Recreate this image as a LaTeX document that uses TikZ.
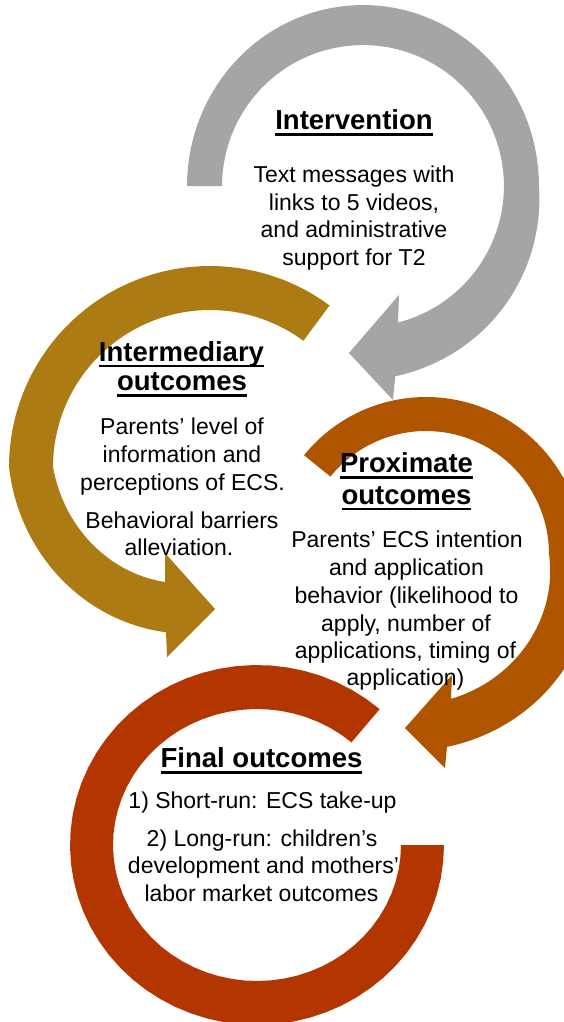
\documentclass[tikz,border=0pt]{standalone}
\usepackage{fontspec}
\setmainfont{Liberation Sans}
\newcommand\ulbox[1]{\setbox0\hbox{#1}\leavevmode\rlap{\rule[-6.2pt]{\wd0}{2.4pt}}\box0}
\definecolor{cgray}{HTML}{A5A5A5}
\definecolor{cgold}{HTML}{AD7B14}
\definecolor{corange}{HTML}{AF5500}
\definecolor{cred}{HTML}{B33600}
\tikzset{
  ttl/.style={font=\fontsize{27.5}{33}\selectfont\bfseries, inner sep=0pt, anchor=base, text=black},
  body/.style={font=\fontsize{23}{27.5}\selectfont, inner sep=0pt, anchor=base, text=black},
  pl/.style={samples=60, variable=\t},
}
\begin{document}
\begin{tikzpicture}[x=1pt, y=-1pt]
\useasboundingbox (0,0) rectangle (564,1022);
\clip (0,0) rectangle (564,1022);
\fill[white] (0,0) rectangle (564,1022);

% Gray arrow (Intervention), centre (363,186)
\fill[cgray]
  plot[pl, domain=180:360] ({363+176*cos(\t)}, {186+181*sin(\t)})
  -- plot[pl, domain=360:440.4] ({363+(176+17*(\t-360)/80.4)*cos(\t)}, {186+(181+12*(\t-360)/80.4)*sin(\t)})
  -- (393,400) -- (349,353) -- (399,295) -- (398,323)
  -- plot[pl, domain=435.8:180] ({363+141*cos(\t)}, {186+141*sin(\t)})
  -- cycle;

% Gold arrow (Intermediary), centre (210,467)
\fill[cgold]
  plot[pl, domain=-53.5:-180] ({210+201*cos(\t)}, {467+201*sin(\t)})
  -- plot[pl, domain=-180:-255.1] ({210+(201-30*(-180-\t)/75.1)*cos(\t)}, {467+(201-30*(-180-\t)/75.1)*sin(\t)})
  -- (167,657) -- (215,609) -- (165,553) -- (165,582)
  -- plot[pl, domain=-248.6:-180] ({210+(157-33.5*(-180-\t)/68.6)*cos(\t)}, {467+(157-33.5*(-180-\t)/68.6)*sin(\t)})
  -- plot[pl, domain=-180:-53.5] ({210+157*cos(\t)}, {467+157*sin(\t)})
  -- cycle;

% Orange arrow (Proximate), centre (426,554)
\fill[corange]
  plot[pl, domain=219:330] ({426+157*cos(\t)}, {554+157*sin(\t)})
  -- plot[pl, domain=330:443.8] ({426+(157+37*(\t-330)/113.8)*cos(\t)}, {554+(157+37*(\t-330)/113.8)*sin(\t)})
  -- (445,768) -- (405,728) -- (452,675) -- (451,699)
  -- plot[pl, domain=440.2:360] ({426+(123+24*(\t-360)/80.2)*cos(\t)}, {554+(123+24*(\t-360)/80.2)*sin(\t)})
  -- plot[pl, domain=360:219] ({426+123*cos(\t)}, {554+123*sin(\t)})
  -- cycle;

% Red ring (Final), centre (257,845)
\fill[cred]
  plot[pl, domain=-49:-360] ({257+187*cos(\t)}, {845+180*sin(\t)})
  -- plot[pl, domain=-360:-49] ({257+144*cos(\t)}, {845+136*sin(\t)})
  -- cycle;

% Texts
\node[ttl] (t1) at (354,129.5) {\ulbox{Intervention}};
\node[body] (b11) at (354,182.7) {Text messages with};
\node[body] (b12) at (354,210.5) {links to 5 videos,};
\node[body] (b13) at (354,237.8) {and administrative};
\node[body] (b14) at (354,265) {support for T2};

\node[ttl] (t2a) at (181.5,361) {\ulbox{Intermediary}};
\node[ttl] (t2b) at (182,390.5) {\ulbox{outcomes}};
\node[body] (b21) at (182,434) {Parents’ level of};
\node[body] (b22) at (182,462) {information and};
\node[body] (b23) at (182.5,490) {perceptions of ECS.};
\node[body] (b24) at (182,528) {Behavioral barriers};
\node[body] (b25) at (179,555.5) {alleviation.};

\node[ttl] (t3a) at (406.5,472.5) {\ulbox{Proximate}};
\node[ttl] (t3b) at (406.5,504) {\ulbox{outcomes}};
\node[body] (b31) at (407,547) {Parents’ ECS intention};
\node[body] (b32) at (406.5,575.5) {and application};
\node[body] (b33) at (406.5,603.5) {behavior (likelihood to};
\node[body] (b34) at (406,631.5) {apply, number of};
\node[body] (b35) at (405.5,658.5) {applications, timing of};
\node[body] (b36) at (405.5,685) {application)};

\node[ttl] (t4) at (261.5,767.3) {\ulbox{Final outcomes}};
\node[body] (b41) at (262.5,808.3) {1) Short-run: ECS take-up};
\node[body] (b42) at (262,846.7) {2) Long-run: children’s};
\node[body] (b43) at (263.5,873.3) {development and mothers’};
\node[body] (b44) at (261.5,901.7) {labor market outcomes};
\end{tikzpicture}
\end{document}
